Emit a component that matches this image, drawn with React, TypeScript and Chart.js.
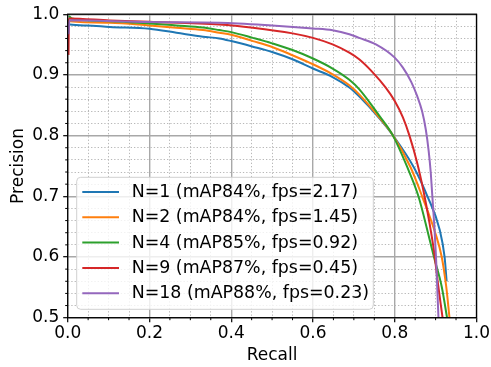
import React, { useEffect, useRef } from 'react';
import { Chart, registerables } from 'chart.js';

Chart.register(...registerables);

const seriesLabels = [
  'N=1 (mAP84%, fps=2.17)',
  'N=2 (mAP84%, fps=1.45)',
  'N=4 (mAP85%, fps=0.92)',
  'N=9 (mAP87%, fps=0.45)',
  'N=18 (mAP88%, fps=0.23)',
];
const seriesColors = ['#1f77b4', '#ff7f0e', '#2ca02c', '#d62728', '#9467bd'];

const recallN1 = [0.001, 0.005, 0.046, 0.103, 0.2, 0.266, 0.331, 0.371, 0.4, 0.453, 0.5, 0.55, 0.6, 0.648, 0.689, 0.713, 0.762, 0.794, 0.847, 0.88, 0.91, 0.922, 0.927];
const precisionN1 = [0.986, 0.983, 0.9815, 0.979, 0.976, 0.9695, 0.963, 0.96, 0.9557, 0.9465, 0.9377, 0.9257, 0.9105, 0.8965, 0.8793, 0.8646, 0.829, 0.802, 0.7475, 0.7, 0.645, 0.6, 0.56];

const recallN2 = [0.001, 0.005, 0.103, 0.2, 0.266, 0.331, 0.371, 0.4, 0.453, 0.5, 0.55, 0.6, 0.648, 0.689, 0.713, 0.762, 0.794, 0.839, 0.867, 0.9, 0.915, 0.926, 0.934];
const precisionN2 = [0.992, 0.9885, 0.986, 0.9815, 0.9777, 0.974, 0.9695, 0.966, 0.9557, 0.946, 0.9323, 0.9175, 0.901, 0.883, 0.868, 0.83, 0.802, 0.7475, 0.7, 0.638, 0.6, 0.551, 0.5];

const recallN4 = [0.003, 0.01, 0.103, 0.2, 0.266, 0.331, 0.371, 0.4, 0.453, 0.5, 0.55, 0.6, 0.648, 0.689, 0.713, 0.762, 0.794, 0.831, 0.858, 0.882, 0.896, 0.915, 0.928];
const precisionN4 = [0.997, 0.993, 0.9885, 0.9848, 0.9815, 0.978, 0.9738, 0.9705, 0.961, 0.952, 0.941, 0.927, 0.9105, 0.892, 0.8766, 0.833, 0.802, 0.7475, 0.7, 0.638, 0.6, 0.551, 0.5];

const recallN9 = [0.002, 0.003, 0.103, 0.2, 0.371, 0.453, 0.55, 0.6, 0.648, 0.689, 0.713, 0.745, 0.778, 0.8, 0.82, 0.836, 0.855, 0.87, 0.884, 0.896, 0.906, 0.917];
const precisionN9 = [0.933, 0.993, 0.9897, 0.9875, 0.983, 0.9777, 0.9684, 0.961, 0.9503, 0.9367, 0.9257, 0.905, 0.879, 0.857, 0.83, 0.8, 0.755, 0.71, 0.66, 0.61, 0.555, 0.5];

const recallN18 = [0.002, 0.004, 0.2, 0.371, 0.5, 0.6, 0.648, 0.689, 0.713, 0.754, 0.8, 0.82, 0.84, 0.855, 0.867, 0.876, 0.883, 0.888, 0.892, 0.897, 0.901, 0.904, 0.907];
const precisionN18 = [0.967, 0.99, 0.987, 0.986, 0.9815, 0.9766, 0.9735, 0.967, 0.961, 0.9503, 0.9285, 0.912, 0.889, 0.865, 0.84, 0.81, 0.775, 0.74, 0.7, 0.65, 0.6, 0.55, 0.5];

const recallSeries = [recallN1, recallN2, recallN4, recallN9, recallN18];
const precisionSeries = [precisionN1, precisionN2, precisionN4, precisionN9, precisionN18];

const xMin = 0, xMax = 1, xMinorStep = 0.05, xMajorStep = 0.2;
const yMin = 0.5, yMax = 1.0, yMinorStep = 0.02, yMajorStep = 0.1;

const FONT = "'DejaVu Sans', sans-serif";
const FS = 17;
const LEGEND_FS = 17.4;

const isMult = (v: number, step: number) => Math.abs(v / step - Math.round(v / step)) < 1e-6;

const MAJOR_GRID = '#a8a8a8';
const MINOR_GRID = '#b8b8b8';

const extrasPlugin = {
  id: 'extras',
  afterDatasetsDraw(chart: any) {
    const { ctx, chartArea: a } = chart;
    ctx.save();
    ctx.strokeStyle = '#000';
    ctx.lineWidth = 1.3;
    ctx.strokeRect(a.left, a.top, a.right - a.left, a.bottom - a.top);
    const xs = chart.scales.x;
    const ys = chart.scales.y;
    ctx.lineWidth = 1;
    ctx.beginPath();
    for (const t of xs.ticks) {
      if (isMult(t.value, xMajorStep)) continue;
      const px = xs.getPixelForValue(t.value);
      ctx.moveTo(px, a.bottom);
      ctx.lineTo(px, a.bottom + 2.5);
    }
    for (const t of ys.ticks) {
      if (isMult(t.value, yMajorStep)) continue;
      const py = ys.getPixelForValue(t.value);
      ctx.moveTo(a.left, py);
      ctx.lineTo(a.left - 2.5, py);
    }
    ctx.stroke();
    ctx.restore();
  },
  afterDraw(chart: any) {
    const { ctx } = chart;
    const bx = 76.7, by = 177.3, bw = 296.6, bh = 132, r = 4;
    ctx.save();
    ctx.beginPath();
    ctx.moveTo(bx + r, by);
    ctx.lineTo(bx + bw - r, by);
    ctx.quadraticCurveTo(bx + bw, by, bx + bw, by + r);
    ctx.lineTo(bx + bw, by + bh - r);
    ctx.quadraticCurveTo(bx + bw, by + bh, bx + bw - r, by + bh);
    ctx.lineTo(bx + r, by + bh);
    ctx.quadraticCurveTo(bx, by + bh, bx, by + bh - r);
    ctx.lineTo(bx, by + r);
    ctx.quadraticCurveTo(bx, by, bx + r, by);
    ctx.closePath();
    ctx.fillStyle = 'rgba(255,255,255,0.8)';
    ctx.fill();
    ctx.strokeStyle = '#d0d0d0';
    ctx.lineWidth = 1;
    ctx.stroke();
    ctx.font = `${LEGEND_FS}px ${FONT}`;
    ctx.textBaseline = 'middle';
    ctx.textAlign = 'left';
    seriesLabels.forEach((label, i) => {
      const yy = 192 + i * 25.3;
      ctx.strokeStyle = seriesColors[i];
      ctx.lineWidth = 2;
      ctx.beginPath();
      ctx.moveTo(82.3, yy);
      ctx.lineTo(119, yy);
      ctx.stroke();
      ctx.fillStyle = '#000';
      ctx.fillText(label, 131.7, yy + 0.5);
    });
    ctx.restore();
  },
};

export default function App() {
  const canvasRef = useRef<HTMLCanvasElement | null>(null);

  useEffect(() => {
    document.body.style.margin = '0';
    const canvas = canvasRef.current;
    if (!canvas) return;
    const datasets = seriesLabels.map((label, i) => ({
      label,
      data: recallSeries[i].map((x, j) => ({ x, y: precisionSeries[i][j] })),
      borderColor: seriesColors[i],
      backgroundColor: seriesColors[i],
      borderWidth: 2,
      pointRadius: 0,
      fill: false,
      cubicInterpolationMode: 'monotone' as const,
      order: seriesLabels.length - i,
    }));

    const chart = new Chart(canvas, {
      type: 'line',
      data: { datasets },
      plugins: [extrasPlugin],
      options: {
        responsive: false,
        animation: false,
        devicePixelRatio: 1,
        layout: { padding: { top: 12.7, right: 13.3, left: 0, bottom: 0 } },
        plugins: { legend: { display: false }, tooltip: { enabled: false } },
        scales: {
          x: {
            type: 'linear',
            min: xMin,
            max: xMax,
            afterFit: (s: any) => { s.height = 49.3; },
            ticks: {
              stepSize: xMinorStep,
              autoSkip: false,
              maxRotation: 0,
              padding: 1,
              color: '#000',
              font: { family: FONT, size: FS },
              callback: (v: any) => (isMult(Number(v), xMajorStep) ? Number(v).toFixed(1) : ''),
            },
            grid: {
              color: (c: any) => (c.tick && isMult(c.tick.value, xMajorStep) ? MAJOR_GRID : MINOR_GRID),
              lineWidth: (c: any) => (c.tick && isMult(c.tick.value, xMajorStep) ? 1.4 : 1),
              tickColor: (c: any) => (c.tick && isMult(c.tick.value, xMajorStep) ? '#000' : 'rgba(0,0,0,0)'),
              tickLength: 4.5,
              tickWidth: 1.2,
            },
            border: {
              display: false,
              dash: (c: any) => (c.tick && isMult(c.tick.value, xMajorStep) ? [] : [1.3, 2]),
            },
            title: {
              display: true,
              text: 'Recall',
              color: '#000',
              font: { family: FONT, size: FS },
              padding: { top: 0, bottom: 1 },
            },
          },
          y: {
            type: 'linear',
            min: yMin,
            max: yMax,
            afterFit: (s: any) => { s.width = 67.7; },
            ticks: {
              stepSize: yMinorStep,
              autoSkip: false,
              padding: 4,
              color: '#000',
              font: { family: FONT, size: FS },
              callback: (v: any) => (isMult(Number(v), yMajorStep) ? Number(v).toFixed(1) : ''),
            },
            grid: {
              color: (c: any) => (c.tick && isMult(c.tick.value, yMajorStep) ? MAJOR_GRID : MINOR_GRID),
              lineWidth: (c: any) => (c.tick && isMult(c.tick.value, yMajorStep) ? 1.4 : 1),
              tickColor: (c: any) => (c.tick && isMult(c.tick.value, yMajorStep) ? '#000' : 'rgba(0,0,0,0)'),
              tickLength: 4.5,
              tickWidth: 1.2,
            },
            border: {
              display: false,
              dash: (c: any) => (c.tick && isMult(c.tick.value, yMajorStep) ? [] : [1.3, 2]),
            },
            title: {
              display: true,
              text: 'Precision',
              color: '#000',
              font: { family: FONT, size: FS },
              padding: { top: 8, bottom: 0 },
            },
          },
        },
      },
    } as any);
    return () => chart.destroy();
  }, []);

  return (
    <div style={{ position: 'fixed', left: 0, top: 0, width: 491, height: 367, background: '#fff' }}>
      <canvas ref={canvasRef} width={491} height={367} style={{ display: 'block' }} />
    </div>
  );
}
